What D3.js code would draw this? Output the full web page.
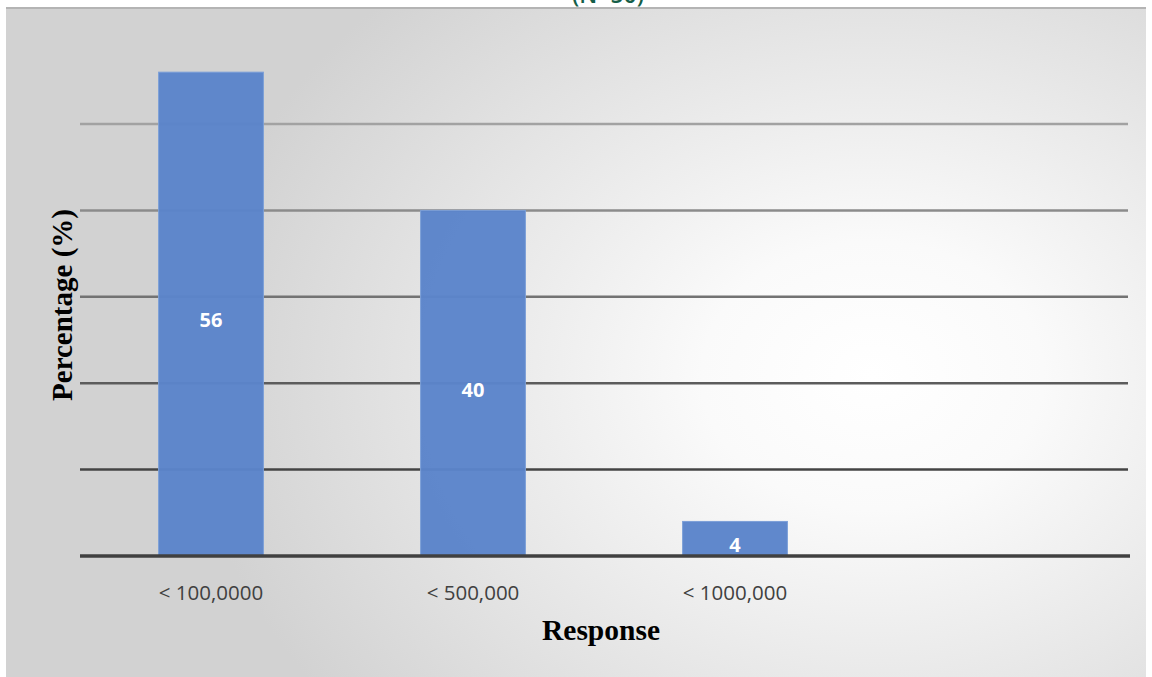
<!DOCTYPE html>
<html>
<head>
<meta charset="utf-8">
<script src="https://cdn.jsdelivr.net/npm/d3@7"></script>
<style>
body { margin:0; background:#fff; }
svg { display:block; }
</style>
</head>
<body>
<div id="drawing"></div>
<script>
"use strict"

/**** DATA ****/

let categories = ["< 100,0000", "< 500,000", "< 1000,000", ""]
let values = [56, 40, 4]
let yTicks = [10, 20, 30, 40, 50]

/**** CONFIGURATION ****/

let svgWidth = 1152
let svgHeight = 677

let plotLeft = 80
let plotRight = 1128
let plotBottom = 556

let svg = d3.select("#drawing")
.append("svg")
.attr("width", svgWidth)
.attr("height", svgHeight)

/**** BACKGROUND ****/

let defs = svg.append("defs")

let bg = defs.append("radialGradient")
.attr("id","bg")
.attr("cx","0.76").attr("cy","0.55").attr("r","0.8")
.attr("gradientTransform","translate(0.76,0.55) scale(0.75,1) translate(-0.76,-0.55)")

bg.append("stop").attr("offset","0%").attr("stop-color","#ffffff")
bg.append("stop").attr("offset","25%").attr("stop-color","#fafafa")
bg.append("stop").attr("offset","100%").attr("stop-color","#d2d2d2")

svg.append("rect")
.attr("x",6).attr("y",7)
.attr("width",1140).attr("height",670)
.attr("fill","url(#bg)")

svg.append("line")
.attr("x1",6).attr("x2",1146)
.attr("y1",8).attr("y2",8)
.attr("stroke","#b4b4b4")
.attr("stroke-width",2)

/**** TITLE (cut off at the top) ****/

svg.append("text")
.attr("x",608)
.attr("y",3)
.style("text-anchor","middle")
.style("font-family","Open Sans, sans-serif")
.style("font-weight","600")
.style("font-size","23px")
.attr("fill","#155e48")
.text("(N=50)")

/**** SCALES ****/

let xScale = d3.scaleBand()
.domain(categories)
.range([plotLeft, plotRight])
.paddingInner(0.6)
.paddingOuter(0.3)

let yScale = d3.scaleLinear()
.domain([0, 60])
.range([plotBottom, plotBottom - 518.4])

let gridColor = d3.scaleLinear()
.domain([50, 10])
.range(["#a2a2a2", "#444444"])

/**** GRIDLINES ****/

svg.selectAll("line.grid")
.data(yTicks)
.join("line")
.classed("grid",true)
.attr("x1",plotLeft)
.attr("x2",plotRight)
.attr("y1",d=>yScale(d))
.attr("y2",d=>yScale(d))
.attr("stroke",d=>gridColor(d))
.attr("stroke-width",2.5)

/**** BARS ****/

svg.selectAll("rect.bar")
.data(values)
.join("rect")
.classed("bar",true)
.attr("x",(d,i)=>xScale(categories[i]))
.attr("y",d=>yScale(d))
.attr("width",xScale.bandwidth())
.attr("height",d=>yScale(0)-yScale(d))
.attr("fill","#5b84ca")
.attr("fill-opacity",0.97)
.attr("stroke","#7c9fd8")
.attr("stroke-width",1)

svg.selectAll("text.barLabel")
.data(values)
.join("text")
.classed("barLabel",true)
.attr("x",(d,i)=>xScale(categories[i]) + xScale.bandwidth()/2)
.attr("y",d=>(yScale(d)+yScale(0))/2 + 8)
.style("text-anchor","middle")
.style("dominant-baseline","middle")
.style("font-family","Open Sans, sans-serif")
.style("font-weight","bold")
.style("font-size","20px")
.attr("fill","#ffffff")
.text(d=>d)

/**** BASELINE ****/

svg.append("line")
.attr("x1",plotLeft)
.attr("x2",plotRight + 2)
.attr("y1",yScale(0))
.attr("y2",yScale(0))
.attr("stroke","#404040")
.attr("stroke-width",3.5)

/**** X TICK LABELS ****/

svg.selectAll("text.xTick")
.data(categories)
.join("text")
.classed("xTick",true)
.attr("x",d=>xScale(d) + xScale.bandwidth()/2)
.attr("y",595)
.style("text-anchor","middle")
.style("dominant-baseline","middle")
.style("font-family","Open Sans, sans-serif")
.style("font-size","20.5px")
.attr("fill","#404040")
.text(d=>d)

/**** AXIS TITLES ****/

svg.append("text")
.attr("x",601)
.attr("y",640)
.style("text-anchor","middle")
.style("font-family","Liberation Serif, Times New Roman, serif")
.style("font-weight","bold")
.style("font-size","29.5px")
.attr("fill","#000")
.text("Response")

svg.append("text")
.attr("transform","rotate(-90)")
.attr("x",-305)
.attr("y",72)
.style("text-anchor","middle")
.style("font-family","Liberation Serif, Times New Roman, serif")
.style("font-weight","bold")
.style("font-size","29px")
.attr("fill","#000")
.text("Percentage (%)")
</script>
</body>
</html>
